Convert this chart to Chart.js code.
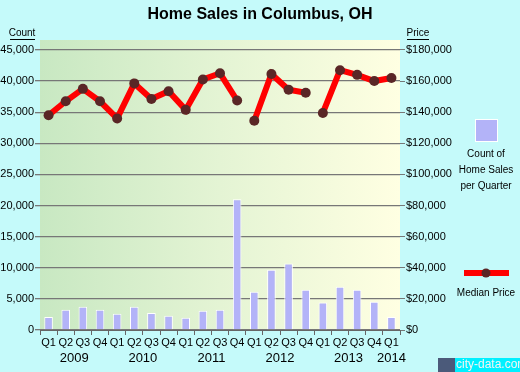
<!DOCTYPE html>
<html>
<head>
<meta charset="utf-8">
<script src="https://cdn.jsdelivr.net/npm/chart.js@4.4.1/dist/chart.umd.min.js"></script>
<style>
  html, body { margin: 0; padding: 0; background: #c5fafa; }
  #wrap { width: 520px; height: 372px; }
</style>
</head>
<body>
<div id="wrap"><canvas id="salesChart" width="520" height="372"></canvas></div>
<script>
const quarters = ['Q1', 'Q2', 'Q3', 'Q4', 'Q1', 'Q2', 'Q3', 'Q4', 'Q1', 'Q2', 'Q3', 'Q4',
    'Q1', 'Q2', 'Q3', 'Q4', 'Q1', 'Q2', 'Q3', 'Q4', 'Q1'];
const years = ['2009', '2010', '2011', '2012', '2013', '2014'];
const salesCount = [2100, 3250, 3750, 3250, 2600, 3750, 2750, 2300, 1950, 3100, 3250, 21000,
    6150, 9700, 10700, 6450, 4400, 6950, 6450, 4550, 2100];
const medianPrice = [138000, 147000, 155000, 147000, 136000, 158500, 148500, 153500, 141500,
    161000, 165000, 147500, 134500, 164500, 154500, 152500, 139500, 167000, 164000, 160000, 162000];
const countTicks = [0, 5000, 10000, 15000, 20000, 25000, 30000, 35000, 40000, 45000];
const priceTicks = [0, 20000, 40000, 60000, 80000, 100000, 120000, 140000, 160000, 180000];
// no line drawn between these quarter indexes and the next one
const lineBreaks = [11, 15];

const font = "'Liberation Sans', Arial, sans-serif";

// background, plot gradient and the extra text around the plot
const decorPlugin = {
    id: 'decor',
    beforeDraw(chart) {
        const { ctx, chartArea: a } = chart;
        ctx.save();
        ctx.fillStyle = '#c5fafa';
        ctx.fillRect(0, 0, chart.width, chart.height);
        const g = ctx.createLinearGradient(a.left, 0, a.right, 0);
        g.addColorStop(0, '#c8e8c2');
        g.addColorStop(0.5, '#e4f4d4');
        g.addColorStop(1, '#ffffe2');
        ctx.fillStyle = g;
        ctx.fillRect(a.left, a.top, a.right - a.left, a.bottom - a.top);
        ctx.restore();
    },
    afterDraw(chart) {
        const { ctx } = chart;
        const x = chart.scales.x;
        ctx.save();
        ctx.fillStyle = '#000';
        ctx.textAlign = 'center';
        ctx.textBaseline = 'middle';
        ctx.font = 'bold 16px ' + font;
        ctx.fillText('Home Sales in Columbus, OH', 260, 15);

        // axis captions
        ctx.font = '10px ' + font;
        ctx.fillText('Count', 22, 33);
        ctx.fillText('Price', 418, 33);
        ctx.fillRect(10, 39, 25, 1);
        ctx.fillRect(407, 39, 22, 1);

        // years under the quarters
        ctx.font = '13px ' + font;
        years.forEach((yr, i) => {
            const first = i * 4;
            let px;
            if (first + 2 < quarters.length) {
                px = (x.getPixelForValue(first + 1) + x.getPixelForValue(first + 2)) / 2;
            } else {
                px = x.getPixelForValue(first);
            }
            ctx.fillText(yr, px, 358);
        });

        // legend
        ctx.fillStyle = '#b3b3f8';
        ctx.fillRect(475, 119, 23, 23);
        ctx.strokeStyle = '#fff';
        ctx.lineWidth = 1;
        ctx.strokeRect(475.5, 119.5, 22, 22);
        ctx.fillStyle = '#000';
        ctx.font = '10px ' + font;
        ctx.fillText('Count of', 486, 154);
        ctx.fillText('Home Sales', 486, 170);
        ctx.fillText('per Quarter', 486, 186);

        ctx.strokeStyle = '#ff0000';
        ctx.lineWidth = 6;
        ctx.beginPath();
        ctx.moveTo(464, 273);
        ctx.lineTo(509, 273);
        ctx.stroke();
        ctx.fillStyle = '#5a2626';
        ctx.beginPath();
        ctx.arc(486, 273, 4.5, 0, Math.PI * 2);
        ctx.fill();
        ctx.fillStyle = '#000';
        ctx.fillText('Median Price', 486, 293);

        // watermark
        ctx.fillStyle = '#00f0ff';
        ctx.fillRect(455, 358, 65, 14);
        ctx.fillStyle = '#4b5a7a';
        ctx.fillRect(438, 358, 17, 14);
        ctx.fillStyle = '#f4f4f4';
        ctx.font = '12px ' + font;
        ctx.textAlign = 'left';
        ctx.fillText('city-data.com', 456, 365);
        ctx.restore();
    }
};

const ctx = document.getElementById('salesChart').getContext('2d');
new Chart(ctx, {
    data: {
        labels: quarters,
        datasets: [
            {
                type: 'line',
                label: 'Median Price',
                data: medianPrice,
                yAxisID: 'y1',
                borderColor: '#ff0000',
                borderWidth: 6,
                pointBackgroundColor: '#5a2626',
                pointBorderWidth: 0,
                pointRadius: 5,
                tension: 0,
                order: 0,
                segment: {
                    borderColor: c => lineBreaks.includes(c.p0DataIndex) ? 'transparent' : '#ff0000'
                }
            },
            {
                type: 'bar',
                label: 'Count of Home Sales per Quarter',
                data: salesCount,
                yAxisID: 'y',
                backgroundColor: '#b3b3f8',
                borderColor: '#ffffff',
                borderWidth: 1,
                barPercentage: 0.5,
                categoryPercentage: 1,
                order: 1
            }
        ]
    },
    plugins: [decorPlugin],
    options: {
        responsive: false,
        animation: false,
        layout: { padding: { top: 40, left: 0, right: 0, bottom: 0 } },
        plugins: {
            legend: { display: false },
            title: { display: false },
            tooltip: { enabled: false }
        },
        scales: {
            x: {
                afterFit: s => { s.height = 42; },
                grid: { drawOnChartArea: false, offset: true, tickLength: 5, color: '#666' },
                border: { display: true, color: '#666' },
                ticks: { color: '#000', font: { family: font, size: 11 }, padding: 1, maxRotation: 0, autoSkip: false }
            },
            y: {
                position: 'left',
                min: 0,
                max: 46600,
                afterFit: s => { s.width = 40; },
                afterBuildTicks: s => { s.ticks = countTicks.map(v => ({ value: v })); },
                grid: { color: '#777', lineWidth: 1.3, tickLength: 5 },
                border: { display: false },
                ticks: {
                    padding: 1,
                    color: '#000',
                    font: { family: font, size: 11 },
                    callback: v => v.toLocaleString('en-US')
                }
            },
            y1: {
                position: 'right',
                min: 0,
                max: 186400,
                afterFit: s => { s.width = 120; },
                afterBuildTicks: s => { s.ticks = priceTicks.map(v => ({ value: v })); },
                grid: { drawOnChartArea: false, color: '#777', tickLength: 5 },
                border: { display: false },
                ticks: {
                    padding: 1,
                    color: '#000',
                    font: { family: font, size: 11 },
                    callback: v => '$' + v.toLocaleString('en-US')
                }
            }
        }
    }
});
</script>
</body>
</html>
